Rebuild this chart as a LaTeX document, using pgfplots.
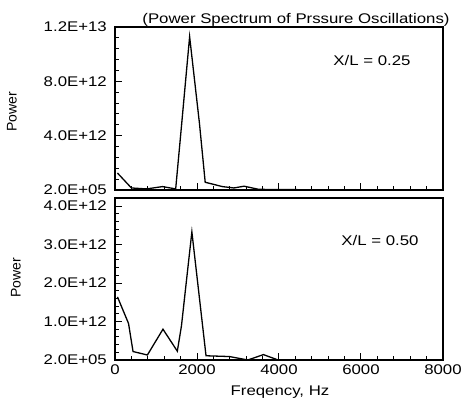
\documentclass[border=0pt]{standalone}
\usepackage{fontspec}
\setmainfont[FakeStretch=1.2]{Liberation Sans}
\newfontfamily\plainsans{Liberation Sans}
\usepackage{pgfplots}
\pgfplotsset{compat=1.18}
\newcommand\fs{\fontsize{14bp}{16bp}\selectfont}
\begin{document}
\begin{tikzpicture}
\useasboundingbox (0bp,0bp) rectangle (466bp,403bp);
\pgfplotsset{
 myaxis/.style={
  scale only axis, width=328bp, xmin=0, xmax=8000,
  axis line style={line width=1.8bp},
  tick style={black, line width=1bp},
  tick align=inside,
  xtick pos=bottom, ytick pos=left,
  major tick length=7bp, minor tick length=4bp,
  xtick={0,2000,4000,6000,8000}, minor x tick num=4,
  scaled y ticks=false, scaled x ticks=false,
  tick label style={font=\fs},
  yticklabel style={anchor=east, inner sep=0pt, xshift=-8bp},
  xticklabel style={anchor=north, inner sep=0pt, yshift=-5bp},
  /pgf/number format/assume math mode=true,
  clip=false,
 }}
\begin{axis}[myaxis, at={(115bp,213bp)}, anchor=south west, height=163bp,
  ymin=0, ymax=1.2e13, ytick={0,4e12,8e12,1.2e13},
  yticklabels={2.0E+05,4.0E+12,8.0E+12,1.2E+13}, minor y tick num=4,
  xticklabels={}]
\addplot[black, line width=1.3bp] coordinates {
 (60,1.25e12) (400,0.15e12) (770,0.08e12) (1160,0.25e12) (1480,0.08e12)
 (1620,4.66e12) (1820,11.29e12) (2060,4.9e12) (2200,0.57e12) (2620,0.25e12)
 (2900,0.15e12) (3150,0.28e12) (3500,0.05e12) (4000,0.03e12) (5000,0.02e12) (8000,0.01e12)};
\end{axis}
\begin{axis}[myaxis, at={(115bp,43bp)}, anchor=south west, height=162bp,
  ymin=0, ymax=4.21e12, ytick={0,1e12,2e12,3e12,4e12},
  yticklabels={2.0E+05,1.0E+12,2.0E+12,3.0E+12,4.0E+12}, minor y tick num=4,
  xticklabels={0,2000,4000,6000,8000}]
\addplot[black, line width=1.3bp] coordinates {
 (60,1.64e12) (330,0.95e12) (440,0.22e12) (790,0.13e12) (1170,0.8e12)
 (1520,0.23e12) (1620,0.88e12) (1875,3.33e12) (2220,0.11e12) (2790,0.09e12)
 (3240,0.0) (3620,0.14e12) (3980,0.0) (8000,0.0)};
\end{axis}
\node[font=\fs] at (296bp,383bp) {(Power Spectrum of Prssure Oscillations)};
\node[font=\fs] at (372bp,343bp) {X/L = 0.25};
\node[font=\fs] at (380bp,163bp) {X/L = 0.50};
\node[font={\fontsize{14bp}{16bp}\plainsans}, rotate=90] at (12bp,291bp) {Power};
\node[font={\fontsize{14bp}{16bp}\plainsans}, rotate=90] at (16bp,125bp) {Power};
\node[font=\fs] at (280bp,11bp) {Freqency, Hz};
\end{tikzpicture}
\end{document}
